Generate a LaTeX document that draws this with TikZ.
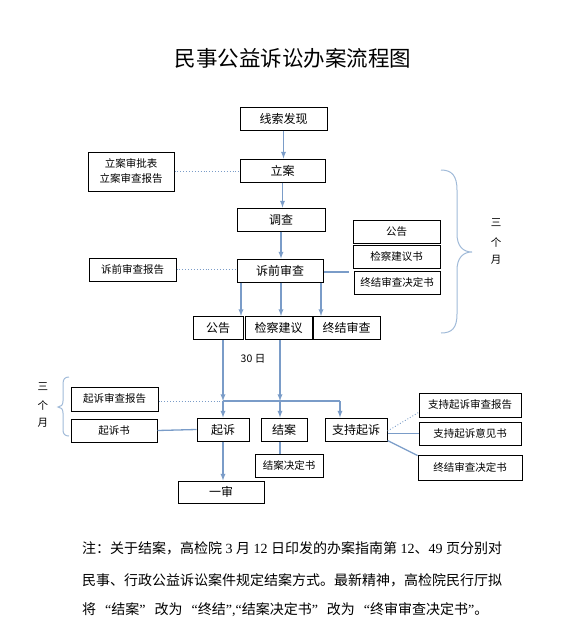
\documentclass[tikz,border=0pt]{standalone}
\usepackage{fontspec}
\setmainfont{Noto Sans CJK SC}
\newfontfamily\lat{Liberation Serif}
\usepackage{tikz}
\usetikzlibrary{positioning}
\definecolor{lineblue}{RGB}{122,156,200}
\definecolor{bracecol}{RGB}{160,186,216}
\newcommand{\oq}{{\lat “}}
\newcommand{\cq}{{\lat ”}}
\newcommand{\gap}{\hspace{9pt}}

\begin{document}
\begin{tikzpicture}[x=1pt, y=-1pt, >=latex,
    box/.style={draw, black, line width=1pt, inner sep=0pt, minimum height=23pt, font=\fontsize{12}{14}\selectfont},
    sbox/.style={box, font=\fontsize{10.5}{15}\selectfont},
    link/.style={lineblue, line width=1.3pt},
    arr/.style={link, ->},
    dots/.style={lineblue, line width=0.9pt, dotted},
    brace/.style={bracecol, line width=1pt},
    lbl/.style={font=\fontsize{10.5}{12}\selectfont, inner sep=0pt},
    note/.style={anchor=west, inner sep=0pt, font=\fontsize{14}{16}\selectfont}]
  \useasboundingbox (0,0) rectangle (562,643);
  \node[font=\fontsize{21.5}{24}\selectfont] (title) at (293,58) {民事公益诉讼办案流程图};
  % main column
  \node[box, minimum width=87pt] (xsfx) at (283.5,118.5) {线索发现};
  \node[box, minimum width=85pt] (la) at (282.5,170.5) {立案};
  \node[box, minimum width=88pt] (dc) at (281,219.5) {调查};
  \node[box, minimum width=86pt] (sqsc) at (280,270.5) {诉前审查};
  \node[sbox, minimum width=86pt, minimum height=39pt, align=center] (lasp) at (131,171.5) {立案审批表\\立案审查报告};
  \node[sbox, minimum width=87pt] (sqbg) at (132.5,269.5) {诉前审查报告};
  \node[sbox, minimum width=87pt] (gg1) at (396.5,231.5) {公告};
  \node[sbox, minimum width=87pt] (jcjys) at (396.5,256.5) {检察建议书};
  \node[sbox, minimum width=86pt] (zjjd1) at (397,282.5) {终结审查决定书};
  % results of the pre-trial review
  \node[box, minimum width=50pt] (gg) at (218,328) {公告};
  \node[box, minimum width=67pt] (jcjy) at (278.5,328) {检察建议};
  \node[box, minimum width=67pt] (zjsc) at (346.5,328) {终结审查};
  \node[lbl] (sanshi) at (253,359) {30 日};
  % litigation
  \node[box, minimum width=52pt] (qs) at (223,429.5) {起诉};
  \node[box, minimum width=46pt] (ja) at (284,429.5) {结案};
  \node[box, minimum width=62pt] (zcqs) at (356,429.5) {支持起诉};
  \node[sbox, minimum width=87pt, minimum height=24pt] (qsbg) at (114.5,399) {起诉审查报告};
  \node[sbox, minimum width=86pt] (qss) at (114,430.5) {起诉书};
  \node[box, minimum width=86pt, minimum height=22pt] (ys) at (221,492) {一审};
  \node[sbox, minimum width=68pt] (jajd) at (289,465.5) {结案决定书};
  \node[sbox, minimum width=102pt, minimum height=24pt] (zcbg) at (470,405) {支持起诉审查报告};
  \node[sbox, minimum width=102pt] (zcyj) at (470,433.5) {支持起诉意见书};
  \node[sbox, minimum width=104pt, minimum height=25pt] (zjjd2) at (470,467.5) {终结审查决定书};
  % connectors
  \draw[arr] (xsfx.south) -- (xsfx.south |- la.north);
  \draw[arr] (la.south) -- (la.south |- dc.north);
  \draw[arr] (dc.south) -- (dc.south |- sqsc.north);
  \draw[dots] (lasp.east) -- (lasp.east -| la.west);
  \draw[dots] (sqbg.east) -- (sqbg.east -| sqsc.west);
  \coordinate (sqend) at (349,272);
  \draw[link] (sqsc.east |- sqend) -- (sqend);
  \foreach \dx in {-39,1,41}
    \draw[arr] ([xshift=\dx pt]sqsc.south) -- ([xshift=\dx pt]sqsc.south |- gg.north);
  \coordinate (j1) at (223,401);
  \coordinate (j2) at (280,401);
  \coordinate (j3) at (340,401);
  \draw[arr] (gg.south -| j1) -- (j1);
  \draw[arr] (j1) -- (j1 |- qs.north);
  \draw[arr] (jcjy.south -| j2) -- (j2);
  \draw[arr] (j2) -- (j2 |- ja.north);
  \draw[link] (j1) -- (j3);
  \draw[arr] (j3) -- (j3 |- zcqs.north);
  \draw[dots] (qsbg.east |- j1) -- (j1);
  \draw[link] (qss.east) -- (qs.west);
  \draw[arr] (qs.south) -- (qs.south |- ys.north);
  \draw[link] (ja.south -| j2) -- (j2 |- jajd.north);
  \draw[dots] ([yshift=-1.5pt]zcqs.east) -- ([yshift=5pt]zcbg.south west);
  \draw[link] ([yshift=-4pt]zcqs.east) -- (zcyj.west);
  \draw[link] ([yshift=1pt]zcqs.south east) -- ([yshift=-1pt]zjjd2.north west);
  % braces
  \draw[brace] (441,170) .. controls (452,170) and (457,176) .. (457,190) -- (457,234)
    .. controls (457,246) and (463,252) .. (472,252) .. controls (463,252) and (457,258) .. (457,270)
    -- (457,314) .. controls (457,328) and (452,333) .. (441,333);
  \node[lbl] (rs) at (496,223) {三};
  \node[lbl] (rg) at (496,242) {个};
  \node[lbl] (ry) at (496,260) {月};
  \draw[brace] (69,377) .. controls (65,377) and (63,379) .. (63,384) -- (63,401)
    .. controls (63,405) and (61,407) .. (58,407) .. controls (61,407) and (63,409) .. (63,413)
    -- (63,430) .. controls (63,434) and (65,436) .. (69,436);
  \node[lbl] (ls) at (43,387) {三};
  \node[lbl] (lg) at (43,405) {个};
  \node[lbl] (ly) at (43,423) {月};
  % note
  \node[note] (zhu1) at (82,548) {注：关于结案，高检院{\lat\ 3 }月{\lat\ 12 }日印发的办案指南第{\lat\ 12}、{\lat 49 }页分别对};
  \node[note] (zhu2) at (82,580) {民事、行政公益诉讼案件规定结案方式。最新精神，高检院民行厅拟};
  \node[note] (zhu3) at (82,610) {将\gap\oq 结案\cq\gap 改为\gap\oq 终结\cq{\lat ,}\oq 结案决定书\cq\gap 改为\gap\oq 终审审查决定书\cq 。};
\end{tikzpicture}
\end{document}
